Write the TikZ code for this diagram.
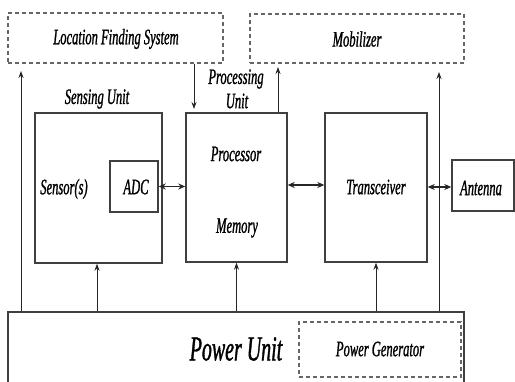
\documentclass[tikz,border=0pt]{standalone}
\usepackage{fontspec}
\setmainfont{Liberation Serif}[FakeStretch=0.57,FakeBold=1.0]
\usetikzlibrary{arrows.meta}
\tikzset{
  blk/.style={draw=black!75, line width=1.4pt, inner sep=0pt, fill=none},
  dbox/.style={draw=black!60, line width=1.3pt, dash pattern=on 4pt off 3pt, inner sep=0pt},
  lbl/.style={inner sep=0pt, font=\fontsize{22}{24}\selectfont\itshape},
  biglbl/.style={inner sep=0pt, font=\fontsize{35}{37}\selectfont\itshape},
  arr/.style={draw=black!85, line width=0.9pt, -{Stealth[length=7pt,width=5pt]}},
  darr/.style={draw=black!85, line width=1.2pt, {Stealth[length=7pt,width=6pt]}-{Stealth[length=7pt,width=6pt]}},
}
\begin{document}
\begin{tikzpicture}[x=1pt,y=-1pt]
\useasboundingbox (0,0) rectangle (515,382);
\fill[white] (0,0) rectangle (515,382);
% boxes
\node[dbox, minimum width=215pt, minimum height=50pt] (lfs) at (115.5,38) {};
\node[dbox, minimum width=214pt, minimum height=49pt] (mob) at (357,38.5) {};
\node[blk, minimum width=127pt, minimum height=150pt] (sens) at (98.5,188) {};
\node[blk, minimum width=48pt, minimum height=51pt] (adc) at (134,186.5) {};
\node[blk, minimum width=101pt, minimum height=149pt] (proc) at (236.5,187.5) {};
\node[blk, minimum width=102pt, minimum height=149pt] (trx) at (376,187.5) {};
\node[blk, minimum width=62pt, minimum height=51pt] (ant) at (483,185.5) {};
\node[blk, minimum width=456pt, minimum height=88pt] (pu) at (236,356) {};
\node[dbox, minimum width=162pt, minimum height=55pt] (pg) at (380,349.5) {};
% labels
\node[lbl] (tlfs) at (116,39) {Location Finding System};
\node[lbl] (tmob) at (357,39) {Mobilizer};
\node[lbl] (tsu) at (97,99) {Sensing Unit};
\node[lbl] (tpu1) at (236,79) {Processing};
\node[lbl] (tpu2) at (237,101) {Unit};
\node[lbl] (tsen) at (64,189) {Sensor(s)};
\node[lbl] (tadc) at (136,187) {ADC};
\node[lbl] (tproc) at (236,154) {Processor};
\node[lbl] (tmem) at (237,228) {Memory};
\node[lbl] (ttrx) at (376,187) {Transceiver};
\node[lbl] (tant) at (481,188) {Antenna};
\node[biglbl] (tpwr) at (236,349) {Power Unit};
\node[lbl] (tpg) at (380,349) {Power Generator};
% free ends
\coordinate (e1) at (21,71);
\coordinate (e2) at (194,109);
\coordinate (e3) at (278,67);
\coordinate (e4) at (439,72);
% connectors
\draw[arr] (pu.north -| e1) -- (e1);
\draw[arr] (lfs.south -| e2) -- (e2);
\draw[arr] (proc.north -| e3) -- (e3);
\draw[arr] (pu.north -| e4) -- (e4);
\draw[arr] (pu.north -| 97,0) -- (sens.south -| 97,0);
\draw[arr] (pu.north -| proc.south) -- (proc.south);
\draw[arr] (pu.north -| trx.south) -- (trx.south);
\draw[darr] (adc.east) -- (proc.west |- adc.east);
\draw[darr] (proc.east |- 0,185) -- (trx.west |- 0,185);
\draw[darr] (trx.east |- 0,187) -- (ant.west |- 0,187);
\end{tikzpicture}
\end{document}
